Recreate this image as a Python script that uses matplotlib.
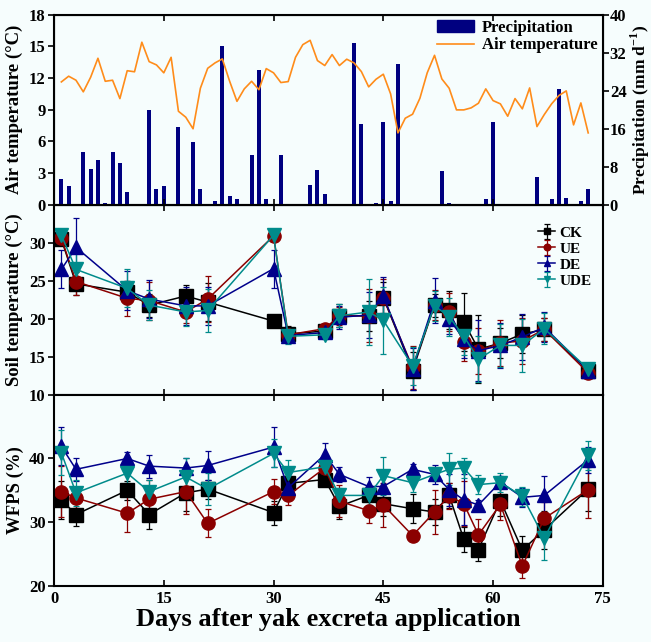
import numpy as np
import matplotlib
matplotlib.use("Agg")
import matplotlib.pyplot as plt
from matplotlib.patches import Patch
from matplotlib.lines import Line2D

plt.rcParams["font.family"] = ["Liberation Serif", "DejaVu Serif"]
plt.rcParams["font.weight"] = "bold"
plt.rcParams["mathtext.fontset"] = "custom"
plt.rcParams["mathtext.rm"] = "Liberation Serif:bold"
plt.rcParams["mathtext.bf"] = "Liberation Serif:bold"

# Weather (daily)
days_w = np.arange(1, 74)
air_temp = [11.64, 12.18, 11.8, 10.7, 12.08, 13.88, 11.7, 11.8, 10.06, 12.7,
            12.6, 15.4, 13.56, 13.25, 12.5, 13.97, 8.86, 8.3, 7.2, 11.04,
            12.93, 13.44, 13.82, 11.7, 9.8, 10.98, 11.7, 10.9, 12.9, 12.5,
            11.58, 11.67, 13.97, 15.17, 15.58, 13.66, 13.19, 14.23, 13.19, 13.79,
            13.44, 12.62, 11.17, 11.89, 12.37, 10.5, 6.81, 8.2, 8.58, 10.09,
            12.5, 14.16, 11.92, 11.04, 8.99, 8.99, 9.18, 9.62, 10.98, 9.87,
            9.56, 8.39, 10.06, 9.09, 11.07, 7.41, 8.55, 9.56, 10.35, 10.79,
            7.57, 9.65, 6.81]
precip = [5.5, 4.0, 0, 11.1, 7.5, 9.5, 0.4, 11.2, 8.8, 2.7,
          0, 0, 20.0, 3.4, 4.0, 0.2, 16.4, 0.2, 13.2, 3.4,
          0.1, 0.8, 33.5, 1.8, 1.3, 0, 10.4, 28.3, 1.2, 0,
          10.4, 0, 0, 0, 4.2, 7.4, 2.3, 0, 0, 0.2,
          34.0, 17.1, 0, 0.4, 17.5, 0.8, 29.6, 0, 0, 0,
          0, 0, 7.1, 0.4, 0, 0, 0, 0, 1.2, 17.5,
          0, 0, 0, 0, 0.2, 5.9, 0, 1.2, 24.3, 1.5,
          0, 0.9, 3.3]

# Sampling days
days = [1, 3, 10, 13, 18, 21, 30, 32, 37, 39, 43, 45, 49, 52, 54, 56, 58, 61, 64, 67, 73]
treatments = ["CK", "UE", "DE", "UDE"]

soil_t = {
    "CK":  [30.5, 24.6, 23.5, 21.8, 23.0, 22.2, 19.7, 18.0, 18.4, 20.4, 20.4, 22.8, 13.2, 21.8, 21.1, 19.6, 16.0, 16.8, 18.0, 18.6, 13.2],
    "UE":  [30.6, 24.9, 22.7, 22.4, 20.9, 22.6, 30.9, 17.9, 18.7, 20.4, 20.4, 22.8, 13.6, 21.8, 20.9, 16.9, 15.8, 16.8, 17.1, 18.6, 12.9],
    "DE":  [26.5, 29.4, 23.7, 22.6, 21.7, 21.7, 26.6, 17.8, 18.2, 20.2, 20.5, 23.0, 13.4, 22.4, 20.0, 17.3, 15.8, 16.5, 17.6, 18.9, 13.2],
    "UDE": [31.0, 26.5, 24.0, 21.8, 20.9, 21.1, 31.0, 17.7, 17.9, 20.4, 20.9, 19.8, 13.8, 21.7, 20.3, 17.7, 14.7, 16.5, 16.5, 18.7, 13.4],
}
soil_t_err = {
    "CK":  [0.5, 1.5, 1.5, 1.5, 1.5, 2.5, 0.3, 1.0, 0.5, 1.5, 2.0, 2.0, 2.5, 1.5, 2.5, 3.8, 4.5, 2.0, 2.5, 1.5, 0.5],
    "UE":  [0.5, 1.8, 2.3, 2.5, 1.5, 3.0, 0.3, 1.0, 0.5, 1.2, 3.5, 2.5, 2.8, 2.0, 2.5, 2.5, 3.0, 3.0, 3.0, 1.5, 0.5],
    "DE":  [2.5, 3.9, 2.6, 2.5, 2.5, 2.5, 2.5, 1.0, 0.5, 1.5, 3.0, 2.5, 2.8, 3.0, 2.0, 2.5, 4.0, 3.0, 3.0, 2.0, 0.7],
    "UDE": [0.5, 2.5, 2.5, 2.0, 1.8, 2.8, 0.3, 1.0, 0.5, 1.5, 4.3, 4.4, 2.5, 2.0, 2.5, 2.5, 3.0, 2.8, 3.5, 2.0, 0.7],
}
wfps = {
    "CK":  [33.5, 31.2, 35.0, 31.2, 34.6, 35.2, 31.5, 36.1, 36.7, 32.5, 34.2, 32.9, 32.1, 31.6, 34.2, 27.3, 25.7, 33.4, 25.6, 28.8, 35.2],
    "UE":  [34.8, 33.8, 31.4, 33.6, 34.8, 29.8, 34.8, 34.2, 38.5, 33.3, 31.8, 32.7, 27.9, 31.6, 34.1, 32.9, 28.0, 32.8, 23.1, 30.6, 35.1],
    "DE":  [41.9, 38.3, 40.0, 38.8, 38.5, 38.9, 41.8, 35.4, 40.6, 37.5, 35.6, 35.6, 38.3, 37.5, 35.1, 33.5, 32.7, 36.3, 33.9, 34.2, 39.8],
    "UDE": [40.9, 34.6, 37.7, 34.8, 37.1, 35.2, 40.8, 37.8, 38.7, 34.2, 34.2, 37.3, 36.2, 37.5, 38.3, 38.5, 35.9, 36.2, 34.1, 27.5, 40.5],
}
wfps_err = {
    "CK":  [3.0, 1.8, 1.5, 2.2, 2.8, 1.5, 1.9, 2.5, 1.0, 2.0, 1.5, 2.0, 2.3, 2.0, 2.0, 2.0, 1.8, 2.5, 2.3, 3.0, 3.5],
    "UE":  [4.0, 1.5, 3.0, 3.0, 3.5, 2.2, 2.0, 1.5, 1.2, 2.5, 2.0, 3.5, 0.5, 3.5, 2.0, 3.5, 2.5, 2.5, 1.8, 2.5, 4.5],
    "DE":  [3.0, 1.8, 1.0, 1.8, 1.5, 2.3, 3.2, 1.8, 1.8, 1.2, 1.5, 2.5, 0.8, 1.5, 2.5, 4.0, 0.8, 1.0, 1.5, 3.0, 2.0],
    "UDE": [3.5, 2.0, 1.5, 1.8, 3.0, 2.5, 2.2, 2.0, 1.8, 1.2, 1.5, 3.0, 1.5, 1.0, 2.5, 1.5, 1.5, 1.5, 1.5, 3.5, 2.3],
}

colors = {"CK": "black", "UE": "#8b0000", "DE": "#00008b", "UDE": "#008b8b"}
markers = {"CK": "s", "UE": "o", "DE": "^", "UDE": "v"}
bg = "#f6fdfd"

fig = plt.figure(figsize=(6.51, 6.42), dpi=100, facecolor=bg)
ax1 = fig.add_axes([0.083, 0.681, 0.843, 0.296])
ax2 = fig.add_axes([0.083, 0.385, 0.843, 0.296])
ax3 = fig.add_axes([0.083, 0.0875, 0.843, 0.2975])

# Top panel: precipitation + air temperature
ax1r = ax1.twinx()
ax1r.bar(days_w, precip, width=0.55, color="#000080")
ax1.plot(days_w, air_temp, color="#ff8c1a", lw=1.2)
ax1.set_zorder(ax1r.get_zorder() + 1)
ax1.patch.set_visible(False)
ax1r.set_facecolor(bg)
ax1.set_ylim(0, 18)
ax1.set_yticks(range(0, 19, 3))
ax1r.set_ylim(0, 40)
ax1r.set_yticks(range(0, 41, 8))
ax1.set_ylabel("Air temperature (°C)", fontsize=13.5, fontweight="bold", labelpad=4)
ax1r.set_ylabel("Precipitation (mm d$^{-1}$)", fontsize=12.5, fontweight="bold")
ax1r.yaxis.set_label_coords(1.047, 0.5)
handles = [Patch(color="#000080"), Line2D([], [], color="#ff8c1a", lw=1.2)]
ax1.legend(handles, ["Precipitation", "Air temperature"], loc="upper right",
           frameon=False, fontsize=12, handlelength=2.2, borderaxespad=0.1,
           handletextpad=0.5, labelspacing=0.1, borderpad=0.2)


def draw_series(ax, data, err):
    for t in treatments:
        ax.errorbar(days, data[t], yerr=err[t], color=colors[t], marker=markers[t],
                    ms=9.5, lw=1.1, elinewidth=0.9, capsize=2.5, capthick=0.9,
                    label=t)


ax2.set_facecolor(bg)
draw_series(ax2, soil_t, soil_t_err)
ax2.set_ylim(10, 35)
ax2.set_yticks([10, 15, 20, 25, 30])
ax2.set_ylabel("Soil temperature (°C)", fontsize=13.5, fontweight="bold", labelpad=4)
ax2.legend(loc="upper right", frameon=False, fontsize=11, markerscale=0.5,
           handlelength=1.1, handletextpad=0.3, labelspacing=0.15,
           bbox_to_anchor=(1.005, 0.96))

ax3.set_facecolor(bg)
draw_series(ax3, wfps, wfps_err)
ax3.set_ylim(20, 50)
ax3.set_yticks([20, 30, 40])
ax3.set_ylabel("WFPS (%)", fontsize=13.5, fontweight="bold", labelpad=4)
ax3.set_xlabel("Days after yak excreta application", fontsize=19, fontweight="bold", labelpad=1)

for ax in (ax1, ax2, ax3):
    ax.set_xlim(0, 75)
    ax.set_xticks(range(0, 76, 15))
    ax.tick_params(axis="x", direction="in", top=True, length=4, width=1.2, labelsize=12)
    ax.tick_params(axis="y", direction="out", length=4, width=1.2, labelsize=12, pad=2)
    for s in ax.spines.values():
        s.set_linewidth(1.5)
    for lab in ax.get_xticklabels() + ax.get_yticklabels():
        lab.set_fontweight("bold")
ax1r.tick_params(axis="y", direction="out", length=4, width=1.2, labelsize=12, pad=1)
for lab in ax1r.get_yticklabels():
    lab.set_fontweight("bold")
ax1.tick_params(axis="x", labelbottom=False)
ax2.tick_params(axis="x", labelbottom=False)

fig.savefig("out.png", dpi=100, facecolor=bg)
